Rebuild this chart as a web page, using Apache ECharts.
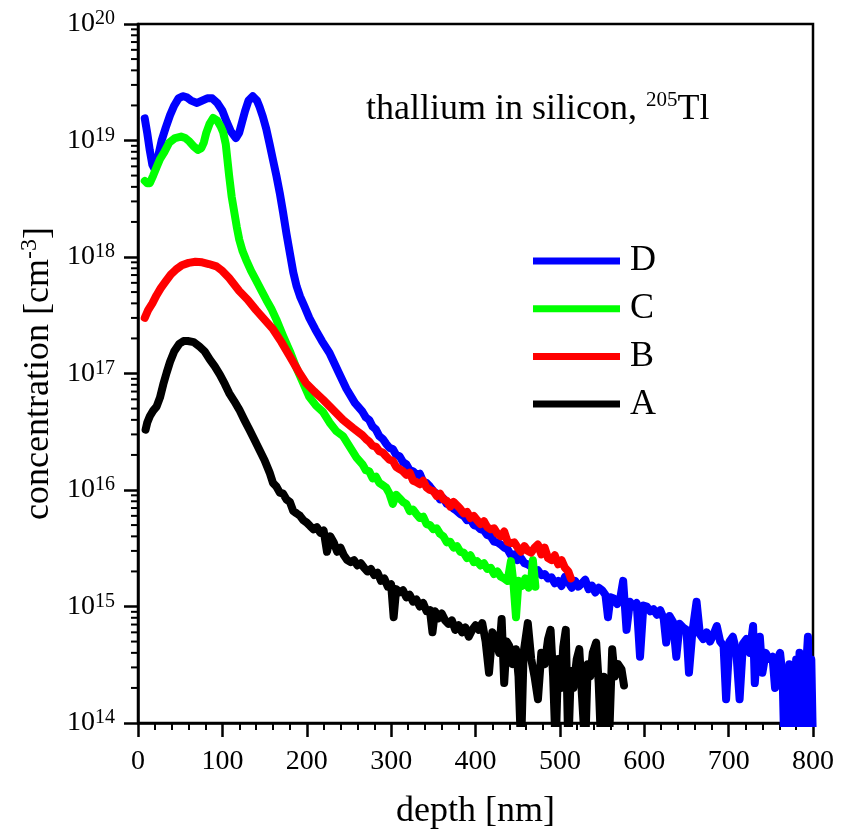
<!DOCTYPE html>
<html><head><meta charset="utf-8">
<script src="https://cdn.jsdelivr.net/npm/echarts@6/dist/echarts.min.js"></script>
<style>html,body{margin:0;padding:0;background:#fff}#c{width:843px;height:836px}</style>
</head><body><div id="c"></div>
<script>
const FONT = "'Liberation Serif','Times New Roman',serif";
const legendOrder = ['D','C','B','A'];
const xMin = 0, xMax = 800, xInterval = 100;
const yDecadeMin = 1e14, yDecadeMax = 1e20;
const minorMultipliers = [2,3,4,5,6,7,8,9];
const minorDecades = [1e14,1e15,1e16,1e17,1e18,1e19];

// D (blue)
const dataD = [
[8,1.55e19],[11,1.15e19],[14,8.2e18],[17,6.2e18],[20,5.6e18],[24,7.4e18],[28,1.0e19],[33,1.3e19],[38,1.65e19],[43,2.0e19],[48,2.3e19],[53,2.4e19],[58,2.35e19],[63,2.2e19],[70,2.1e19],[76,2.2e19],[82,2.3e19],[88,2.3e19],[94,2.1e19],[100,1.8e19],[105,1.45e19],[110,1.2e19],[116,1.05e19],[120,1.17e19],[124,1.5e19],[127,1.8e19],[131,2.2e19],[136,2.4e19],[141,2.2e19],[144,1.95e19],[148,1.6e19],[152,1.26e19],[156,9.3e18],[160,6.8e18],[164,5.0e18],[168,3.55e18],[172,2.4e18],[176,1.58e18],[180,1.08e18],[184,7.4e17],[188,5.6e17],[192,4.6e17],[197,3.8e17],[203,3.0e17],[210,2.4e17],[218,1.9e17],[227,1.5e17],[237,1.05e17],[247,7.4e16],[257,5.6e16],[266,4.7e16],
[270,4.2e16],[274,4.0e16],[278,3.5e16],[282,3.3e16],[286,2.9e16],[290,2.75e16],[294,2.5e16],[298,2.3e16],[302,2.25e16],[306,2.0e16],[310,1.95e16],[314,1.74e16],[318,1.66e16],[322,1.48e16],[326,1.45e16],[330,1.35e16],[334,1.38e16],[338,1.17e16],[342,1.15e16],[346,1.07e16],[350,9.8e15],[354,9.3e15],[358,8.3e15],[362,8.5e15],[366,7.6e15],[370,7.4e15],[374,6.9e15],[378,6.6e15],[382,6.2e15],[386,6.0e15],[390,5.5e15],[394,5.6e15],[398,5.0e15],[402,4.9e15],[406,4.6e15],[410,4.5e15],[414,4.1e15],[418,4.0e15],[422,3.6e15],[426,3.55e15],[430,3.4e15],[434,3.2e15],[438,3.1e15],[442,2.75e15],[446,2.8e15],[450,2.5e15],[454,2.6e15],[458,2.35e15],[462,2.3e15],[466,2.2e15],[470,2.0e15],[474,2.05e15],[478,1.86e15],[482,1.9e15],[486,1.74e15],[490,1.78e15],[494,1.58e15],[498,1.66e15],[502,1.5e15],[506,1.8e15],[510,1.62e15],[514,1.45e15],[518,1.66e15],[522,1.48e15],[526,1.58e15],[530,1.7e15],[534,1.41e15],[538,1.51e15],[542,1.32e15],[546,1.45e15],[550,1.38e15],[554,1.26e15],[557,8.1e14],[560,1.2e15],[564,1.17e15],[568,1.05e15],[572,1.23e15],[575,1.66e15],[579,6.3e14],[583,1.1e15],[587,1.0e15],[591,1.07e15],[595,3.7e14],[599,1.02e15],[603,1.0e15],[607,9.1e14],[611,9.5e14],[615,8.5e14],[619,9.3e14],[623,7.9e14],[626,4.9e14],[630,8.3e14],[634,7.4e14],[638,3.7e14],[642,7.1e14],[646,6.6e14],[650,6.3e14],[653,2.7e14],[657,6.0e14],[662,1.1e15],[666,5.75e14],[670,5.25e14],[674,6.0e14],[678,5.0e14],[682,5.75e14],[686,6.8e14],[690,5.0e14],[694,4.6e14],[697,1.6e14],[701,5.0e14],[705,5.5e14],[709,4.2e14],[713,1.6e14],[717,4.8e14],[721,5.25e14],[725,4.0e14],[729,6.8e14],[731,2.2e14],[734,4.2e14],[737,5.5e14],[740,2.7e14],[744,4.0e14],[748,3.55e14],[752,3.7e14],[755,2.0e14],[758,3.55e14],[761,4.0e14],[764,2.5e14],[766,6e13],[768,2.8e14],[770,6e13],[772,3.2e14],[774,6e13],[776,2.5e14],[778,6e13],[780,3.5e14],[782,6e13],[784,4.0e14],[786,6e13],[788,2.8e14],[790,6e13],[792,3.2e14],[794,5.5e14],[796,6e13],[798,3.5e14],[800,6e13]
];

// C (green)
const dataC = [
[8,4.5e18],[11,4.3e18],[14,4.3e18],[18,5.0e18],[22,5.9e18],[26,6.9e18],[31,7.9e18],[37,9.6e18],[44,1.05e19],[51,1.08e19],[56,1.05e19],[61,9.8e18],[66,8.9e18],[71,8.3e18],[75,8.6e18],[78,9.6e18],[81,1.17e19],[85,1.4e19],[89,1.56e19],[94,1.48e19],[98,1.32e19],[101,1.17e19],[104,9.3e18],[108,5.0e18],[111,3.3e18],[114,2.45e18],[117,1.82e18],[120,1.41e18],[124,1.12e18],[128,9.5e17],[134,7.6e17],[140,6.3e17],[146,5.2e17],[152,4.3e17],[158,3.6e17],[164,2.9e17],[172,2.1e17],[180,1.55e17],[187,1.15e17],[195,8.5e16],[203,6.3e16],[211,5.3e16],[219,4.7e16],[227,3.8e16],[235,3.2e16],[243,2.9e16],[251,2.35e16],[259,1.9e16],[266,1.66e16],
[270,1.48e16],[274,1.45e16],[278,1.26e16],[282,1.3e16],[286,1.15e16],[290,1.1e16],[294,1.05e16],[298,9.3e15],[302,7.6e15],[306,9.1e15],[310,8.5e15],[314,7.9e15],[318,7.6e15],[322,6.6e15],[326,6.8e15],[330,6.2e15],[334,5.75e15],[338,5.9e15],[342,5.1e15],[346,5.0e15],[350,4.6e15],[354,4.7e15],[358,4.2e15],[362,4.0e15],[366,3.55e15],[370,3.6e15],[374,3.2e15],[378,3.3e15],[382,2.95e15],[386,2.9e15],[390,2.6e15],[394,2.75e15],[398,2.4e15],[402,2.45e15],[406,2.25e15],[410,2.35e15],[414,2.1e15],[418,2.15e15],[422,1.9e15],[426,2.0e15],[430,1.8e15],[434,1.74e15],[438,1.66e15],[442,2.45e15],[445,1.58e15],[448,8.1e14],[451,1.66e15],[455,1.5e15],[459,1.74e15],[463,1.45e15],[466,1.66e15],[468,2.5e15],[471,1.48e15]
];

// B (red)
const dataB = [
[8,3.0e17],[12,3.5e17],[17,4.0e17],[22,4.7e17],[27,5.4e17],[33,6.2e17],[39,7.1e17],[45,7.8e17],[52,8.5e17],[60,8.9e17],[68,9.1e17],[76,9.0e17],[84,8.7e17],[93,8.3e17],[100,7.6e17],[108,6.6e17],[114,5.8e17],[120,5.1e17],[130,4.3e17],[140,3.5e17],[150,2.9e17],[160,2.4e17],[170,1.86e17],[180,1.4e17],[190,1.05e17],[199,8.3e16],[209,7.0e16],[219,6.0e16],[231,4.9e16],[243,4.0e16],[255,3.4e16],[266,2.95e16],
[270,2.75e16],[274,2.6e16],[278,2.4e16],[282,2.35e16],[286,2.15e16],[290,2.1e16],[294,1.95e16],[298,1.82e16],[302,1.78e16],[306,1.58e16],[310,1.51e16],[314,1.45e16],[318,1.35e16],[322,1.41e16],[326,1.2e16],[330,1.17e16],[334,1.12e16],[338,1.2e16],[342,1.05e16],[346,1.0e16],[350,9.8e15],[354,8.9e15],[358,9.3e15],[362,8.3e15],[366,8.1e15],[370,7.2e15],[374,7.9e15],[378,7.4e15],[382,6.9e15],[386,6.3e15],[390,6.5e15],[394,5.75e15],[398,6.0e15],[402,5.5e15],[406,5.1e15],[410,5.4e15],[414,4.8e15],[418,4.6e15],[422,4.7e15],[426,4.2e15],[430,4.0e15],[434,4.4e15],[438,3.6e15],[442,3.5e15],[446,3.55e15],[450,3.2e15],[454,2.95e15],[458,3.3e15],[462,3.0e15],[466,2.9e15],[470,3.2e15],[474,3.4e15],[478,2.8e15],[482,3.2e15],[486,2.6e15],[490,2.5e15],[494,2.75e15],[498,2.3e15],[502,2.5e15],[506,2.15e15],[510,2.0e15],[513,1.74e15]
];

// A (black)
const dataA = [
[9,3.3e16],[11,3.8e16],[14,4.3e16],[18,4.8e16],[22,5.2e16],[26,6.2e16],[30,8.1e16],[34,1.02e17],[38,1.26e17],[43,1.55e17],[49,1.8e17],[54,1.9e17],[59,1.9e17],[66,1.86e17],[73,1.7e17],[79,1.55e17],[85,1.32e17],[91,1.15e17],[97,9.8e16],[103,8.1e16],[108,6.8e16],[114,5.8e16],[120,4.9e16],[126,4.0e16],[132,3.3e16],[138,2.7e16],[144,2.2e16],[150,1.8e16],[156,1.41e16],
[160,1.15e16],[164,1.07e16],[168,9.5e15],[172,9.3e15],[176,8.3e15],[180,7.9e15],[184,6.6e15],[188,6.3e15],[192,6.0e15],[196,5.5e15],[200,5.25e15],[204,4.9e15],[208,4.6e15],[212,4.8e15],[216,4.3e15],[220,4.5e15],[224,2.95e15],[228,4.0e15],[232,3.55e15],[236,2.95e15],[240,3.2e15],[244,2.75e15],[248,2.5e15],[252,2.4e15],[256,2.5e15],[260,2.25e15],[264,2.35e15],[268,2.15e15],[272,2.0e15],[276,2.1e15],[280,1.86e15],[284,1.95e15],[288,1.66e15],[292,1.74e15],[296,1.48e15],[300,1.55e15],[303,8.1e14],[306,1.41e15],[310,1.32e15],[314,1.38e15],[318,1.2e15],[322,1.26e15],[326,1.1e15],[330,1.15e15],[334,1.0e15],[338,1.07e15],[342,9.1e14],[346,9.3e14],[349,6.0e14],[352,9.1e14],[356,7.9e14],[360,8.7e14],[364,7.6e14],[368,7.1e14],[372,7.6e14],[376,6.3e14],[380,6.9e14],[384,6.0e14],[388,6.6e14],[392,5.5e14],[396,6.3e14],[400,6.9e14],[404,6.3e14],[408,7.2e14],[412,5.0e14],[416,2.7e14],[420,6.0e14],[424,5.25e14],[428,4.0e14],[431,7.8e14],[434,2.2e14],[437,5.0e14],[440,4.6e14],[444,3.2e14],[448,4.3e14],[451,2.5e14],[454,6e13],[457,4.0e14],[462,7.2e14],[466,3.55e14],[470,2.5e14],[474,1.6e14],[478,4.0e14],[482,3.2e14],[486,5.25e14],[489,6.3e14],[492,2.5e14],[495,6e13],[498,3.55e14],[501,2.0e14],[504,4.5e14],[507,6.3e14],[510,6e13],[513,2.8e14],[516,2.0e14],[520,3.55e14],[523,4.3e14],[526,1.8e14],[530,6e13],[533,3.2e14],[536,2.5e14],[539,4.0e14],[543,4.9e14],[546,2.2e14],[549,6e13],[552,2.5e14],[555,2.0e14],[558,6e13],[562,4.3e14],[565,2.5e14],[569,3.2e14],[573,2.9e14],[576,2.1e14]
];

const yMinorTicks = [];
minorDecades.forEach(d => minorMultipliers.forEach(m => yMinorTicks.push(m * d)));

const chart = echarts.init(document.getElementById('c'), null, {renderer: 'canvas'});

const LINE_W = 8;
function lineSeries(name, data, color, z) {
  return {
    name, type: 'line', data, showSymbol: false, symbol: 'none', z,
    lineStyle: {color: color, width: LINE_W, join: 'round', cap: 'round'},
    itemStyle: {color: color}, emphasis: {disabled: true}, animation: false, clip: true
  };
}

chart.setOption({
  animation: false,
  title: {
    text: '{a|thallium in silicon, }{s|205}{a|Tl}',
    left: 366, top: 90, padding: 0,
    textStyle: {fontWeight: 'normal', rich: {
      a: {fontFamily: FONT, fontSize: 36, fontWeight: 'normal', lineHeight: 40, color: '#000'},
      s: {fontFamily: FONT, fontSize: 21, fontWeight: 'normal', lineHeight: 36, verticalAlign: 'top', color: '#000'}
    }}
  },
  legend: {
    data: legendOrder, orient: 'vertical', left: 533, top: 243,
    itemWidth: 87, itemHeight: 7, itemGap: 11.7, icon: 'rect', padding: 0,
    selectedMode: false,
    textStyle: {fontFamily: FONT, fontSize: 36, lineHeight: 36, color: '#000', padding: [0, 0, 0, 5]}
  },
  grid: {left: 138, top: 24, width: 675, height: 699, show: true, borderColor: '#000', borderWidth: 2.5, backgroundColor: 'transparent'},
  xAxis: {
    type: 'value', min: xMin, max: xMax, interval: xInterval,
    name: 'depth [nm]', nameLocation: 'middle', nameGap: 71,
    nameTextStyle: {fontFamily: FONT, fontSize: 36, lineHeight: 36, color: '#000'},
    axisLine: {show: true, onZero: false, lineStyle: {color: '#000', width: 2.5}},
    axisTick: {show: true, inside: false, length: 14, lineStyle: {color: '#000', width: 2.5}},
    minorTick: {show: true, splitNumber: 5, length: 7, lineStyle: {color: '#000', width: 2}},
    axisLabel: {margin: 25, fontFamily: FONT, fontSize: 28, lineHeight: 28, color: '#000'},
    splitLine: {show: false}, minorSplitLine: {show: false}
  },
  yAxis: {
    type: 'log', logBase: 10, min: yDecadeMin, max: yDecadeMax, splitNumber: 6,
    name: '{a|concentration [cm}{s|-3}{a|]}', nameLocation: 'middle', nameGap: 78,
    nameTextStyle: {rich: {
      a: {fontFamily: FONT, fontSize: 36, lineHeight: 40, color: '#000'},
      s: {fontFamily: FONT, fontSize: 24, lineHeight: 6, verticalAlign: 'top', color: '#000'}
    }},
    axisLine: {show: true, onZero: false, lineStyle: {color: '#000', width: 2.5}},
    axisTick: {show: true, inside: false, length: 14, lineStyle: {color: '#000', width: 2.5}},
    axisLabel: {
      margin: 23,
      formatter: v => '{b|10}{s|' + Math.round(Math.log10(v)) + '}',
      rich: {
        b: {fontFamily: FONT, fontSize: 28, lineHeight: 30, color: '#000'},
        s: {fontFamily: FONT, fontSize: 20, lineHeight: 17, verticalAlign: 'top', color: '#000'}
      }
    },
    splitLine: {show: false}
  },
  series: [
    lineSeries('D', dataD, '#0000ff', 2),
    lineSeries('C', dataC, '#00ff00', 3),
    lineSeries('B', dataB, '#ff0000', 4),
    lineSeries('A', dataA, '#000000', 5),
    {
      type: 'custom', silent: true, clip: false, z: 10, animation: false,
      data: yMinorTicks.map(v => [xMin, v]),
      renderItem: (params, api) => {
        const p = api.coord([api.value(0), api.value(1)]);
        return {type: 'line', shape: {x1: p[0] - 7, y1: p[1], x2: p[0], y2: p[1]}, style: {stroke: '#000', lineWidth: 2}};
      }
    }
  ]
});
</script>
</body></html>
